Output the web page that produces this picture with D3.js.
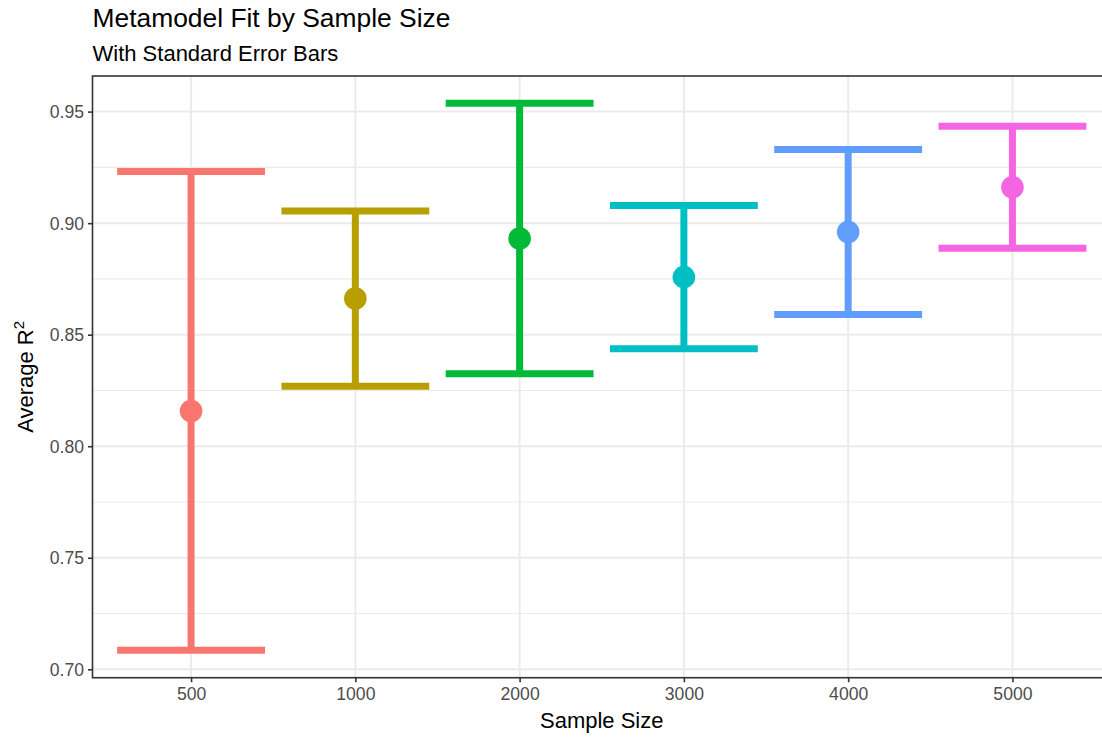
<!DOCTYPE html>
<html>
<head>
<meta charset="utf-8">
<script src="https://cdn.jsdelivr.net/npm/d3@7/dist/d3.min.js"></script>
<style>
  html, body { margin: 0; padding: 0; background: #fff; }
  svg { display: block; font-family: "Liberation Sans", Arial, sans-serif; }
</style>
</head>
<body>
<svg id="chart" width="1102" height="737"></svg>
<script>
// ---- data ----
const categories = ["500", "1000", "2000", "3000", "4000", "5000"];
const means = [0.8158, 0.8662, 0.8931, 0.8758, 0.8960, 0.9161];
const lower = [0.7085, 0.8269, 0.8325, 0.8437, 0.8590, 0.8888];
const upper = [0.9231, 0.9055, 0.9537, 0.9079, 0.9330, 0.9434];
const colors = ["#F8766D", "#B79F00", "#00BA38", "#00BFC4", "#619CFF", "#F564E3"];
const yTicks = [0.70, 0.75, 0.80, 0.85, 0.90, 0.95];
const yMinorTicks = [0.725, 0.775, 0.825, 0.875, 0.925];
const titleText = "Metamodel Fit by Sample Size";
const subtitleText = "With Standard Error Bars";
const xTitle = "Sample Size";

// ---- layout ----
const W = 1102, H = 737;
const panel = { left: 92.5, top: 76, right: 1111, bottom: 677.7 };

const svg = d3.select("#chart");

const lo = d3.min(lower), hi = d3.max(upper);
const pad = (hi - lo) * 0.05;
const y = d3.scaleLinear().domain([lo - pad, hi + pad]).range([panel.bottom, panel.top]);
const x = d3.scalePoint().domain(categories).range([panel.left, panel.right]).padding(0.6);
const step = x.step();

// clip for panel
svg.append("defs").append("clipPath").attr("id", "pclip")
  .append("rect").attr("x", panel.left).attr("y", panel.top)
  .attr("width", panel.right - panel.left).attr("height", panel.bottom - panel.top);

const g = svg.append("g").attr("clip-path", "url(#pclip)");

// grid minor
g.selectAll(".yminor").data(yMinorTicks).enter().append("line")
  .attr("x1", panel.left).attr("x2", panel.right)
  .attr("y1", d => y(d)).attr("y2", d => y(d))
  .attr("stroke", "#EBEBEB").attr("stroke-width", 1.1);
// grid major
g.selectAll(".ymajor").data(yTicks).enter().append("line")
  .attr("x1", panel.left).attr("x2", panel.right)
  .attr("y1", d => y(d)).attr("y2", d => y(d))
  .attr("stroke", "#EBEBEB").attr("stroke-width", 2);
g.selectAll(".xmajor").data(categories).enter().append("line")
  .attr("y1", panel.top).attr("y2", panel.bottom)
  .attr("x1", d => x(d)).attr("x2", d => x(d))
  .attr("stroke", "#EBEBEB").attr("stroke-width", 2);

// error bars
const data = categories.map((c, i) => ({ c, m: means[i], lo: lower[i], hi: upper[i], col: colors[i] }));
const eb = g.selectAll(".eb").data(data).enter().append("g");
const hw = step * 0.45;
eb.append("line")
  .attr("x1", d => x(d.c)).attr("x2", d => x(d.c))
  .attr("y1", d => y(d.hi)).attr("y2", d => y(d.lo))
  .attr("stroke", d => d.col).attr("stroke-width", 7);
eb.append("line")
  .attr("x1", d => x(d.c) - hw).attr("x2", d => x(d.c) + hw)
  .attr("y1", d => y(d.hi)).attr("y2", d => y(d.hi))
  .attr("stroke", d => d.col).attr("stroke-width", 7);
eb.append("line")
  .attr("x1", d => x(d.c) - hw).attr("x2", d => x(d.c) + hw)
  .attr("y1", d => y(d.lo)).attr("y2", d => y(d.lo))
  .attr("stroke", d => d.col).attr("stroke-width", 7);
eb.append("circle")
  .attr("cx", d => x(d.c)).attr("cy", d => y(d.m)).attr("r", 11.3)
  .attr("fill", d => d.col);

// panel border
svg.append("rect").attr("x", panel.left).attr("y", panel.top)
  .attr("width", panel.right - panel.left).attr("height", panel.bottom - panel.top)
  .attr("fill", "none").attr("stroke", "#333333").attr("stroke-width", 1.6);

// axes
const yAxis = d3.axisLeft(y).tickValues(yTicks).tickFormat(d3.format(".2f")).tickSize(4.5).tickPadding(4);
const ya = svg.append("g").attr("transform", `translate(${panel.left},0)`).call(yAxis);
const xAxis = d3.axisBottom(x).tickSize(4.5).tickPadding(5);
const xa = svg.append("g").attr("transform", `translate(0,${panel.bottom})`).call(xAxis);
[ya, xa].forEach(a => {
  a.select(".domain").remove();
  a.selectAll(".tick line").attr("stroke", "#333333").attr("stroke-width", 1.6);
  a.selectAll(".tick text").attr("fill", "#4D4D4D").style("font-size", "17.6px")
    .style("font-family", "'Liberation Sans', Arial, sans-serif");
});
ya.selectAll(".tick text").attr("dy", "0.35em");

// titles
svg.append("text").attr("x", 92.5).attr("y", 26.7)
  .style("font-size", "26.4px").attr("fill", "#000").text(titleText);
svg.append("text").attr("x", 92.5).attr("y", 61)
  .style("font-size", "22px").attr("fill", "#000").text(subtitleText);

svg.append("text").attr("x", (panel.left + panel.right) / 2).attr("y", 728.3)
  .attr("text-anchor", "middle").style("font-size", "22px").attr("fill", "#000").text(xTitle);

const yt = svg.append("text")
  .attr("transform", `translate(32.5,${(panel.top + panel.bottom) / 2}) rotate(-90)`)
  .attr("text-anchor", "middle").style("font-size", "22px").attr("fill", "#000");
yt.append("tspan").text("Average R");
yt.append("tspan").attr("dy", "-0.55em").style("font-size", "15px").text("2");
</script>
</body>
</html>
